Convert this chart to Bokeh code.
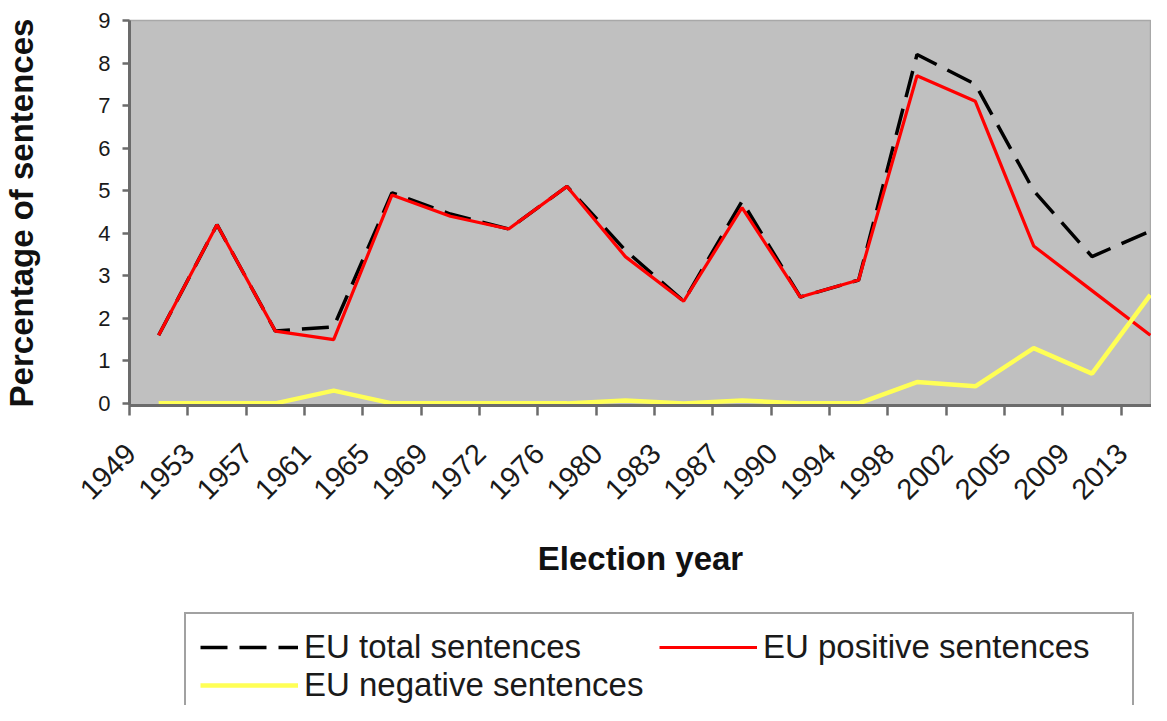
import math
from bokeh.plotting import figure
from bokeh.layouts import column
from bokeh.models import (Range1d, FixedTicker, CustomJSTickFormatter, Legend,
                          LegendItem, ColumnDataSource)
from bokeh.embed import file_html
from bokeh.resources import INLINE

# ---- data -------------------------------------------------------------
years = ["1949", "1953", "1957", "1961", "1965", "1969", "1972", "1976", "1980",
         "1983", "1987", "1990", "1994", "1998", "2002", "2005", "2009", "2013"]
eu_total = [1.6, 4.2, 1.7, 1.8, 4.95, 4.45, 4.1, 5.1, 3.6,
            2.4, 4.75, 2.5, 2.9, 8.2, 7.5, 5.0, 3.45, 4.05]
eu_positive = [1.6, 4.2, 1.7, 1.5, 4.9, 4.4, 4.1, 5.1, 3.45,
               2.4, 4.6, 2.5, 2.9, 7.7, 7.1, 3.7, 2.65, 1.6]
eu_negative = [0.0, 0.0, 0.0, 0.3, 0.0, 0.0, 0.0, 0.0, 0.07,
               0.0, 0.07, 0.0, 0.0, 0.5, 0.4, 1.3, 0.7, 2.55]
y_ticks = [0, 1, 2, 3, 4, 5, 6, 7, 8, 9]
series_labels = ["EU total sentences", "EU positive sentences", "EU negative sentences"]

pos = list(range(1, len(years) + 1))
src = ColumnDataSource(dict(x=pos, total=eu_total, positive=eu_positive,
                            negative=eu_negative))

FONT = "Liberation Sans"
AXIS_GRAY = "#6b6b6b"
LABEL_SHIFT = 0.48
W = 1151

STYLES = {
    "total": dict(line_color="black", line_width=3.5, line_dash="27 12"),
    "positive": dict(line_color="#ff0000", line_width=3.2),
    "negative": dict(line_color="#ffff55", line_width=4.5),
}

# ---- main chart --------------------------------------------------------
p = figure(width=W, height=612, output_backend="svg", toolbar_location=None,
           x_range=Range1d(0.5, 18.02), y_range=Range1d(-0.05, 9),
           min_border_left=126, min_border_right=0, min_border_top=20,
           min_border_bottom=207,
           background_fill_color="#c0c0c0", border_fill_color="white")
p.xgrid.visible = False
p.ygrid.visible = False
p.outline_line_color = "#a8a8a8"
p.outline_line_width = 1.5

xa = p.xaxis[0]
xa.ticker = FixedTicker(ticks=[i - LABEL_SHIFT for i in pos],
                        minor_ticks=[i - 0.5 for i in pos] + [len(pos) + 0.5])
xa.formatter = CustomJSTickFormatter(
    args=dict(labels=years, shift=LABEL_SHIFT),
    code="const i = Math.round(tick + shift) - 1;"
         "return (i >= 0 && i < labels.length) ? labels[i] : '';")
xa.major_label_orientation = math.pi / 4
xa.major_tick_out = 0
xa.major_tick_in = 0
xa.minor_tick_out = 10
xa.minor_tick_in = 0
xa.minor_tick_line_color = AXIS_GRAY
xa.minor_tick_line_width = 2.5
xa.axis_line_color = AXIS_GRAY
xa.axis_line_width = 3
xa.major_label_standoff = 33
xa.major_label_text_font = FONT
xa.major_label_text_font_size = "29px"
xa.major_label_text_color = "#1a1a1a"
xa.axis_label = "Election year"
xa.axis_label_text_font = FONT
xa.axis_label_text_font_style = "bold"
xa.axis_label_text_font_size = "33px"
xa.axis_label_text_color = "#111111"
xa.axis_label_standoff = 29

ya = p.yaxis[0]
ya.ticker = FixedTicker(ticks=y_ticks)
ya.major_tick_out = 7
ya.major_tick_in = 0
ya.major_tick_line_color = AXIS_GRAY
ya.major_tick_line_width = 2.5
ya.minor_tick_out = 0
ya.minor_tick_in = 0
ya.axis_line_color = AXIS_GRAY
ya.axis_line_width = 3
ya.major_label_standoff = 12
ya.major_label_text_font = FONT
ya.major_label_text_font_size = "22px"
ya.major_label_text_color = "#1a1a1a"
ya.axis_label = "Percentage of sentences"
ya.axis_label_text_font = FONT
ya.axis_label_text_font_style = "bold"
ya.axis_label_text_font_size = "33px"
ya.axis_label_text_color = "#111111"
ya.axis_label_standoff = 55

p.line("x", "total", source=src, **STYLES["total"])
p.line("x", "positive", source=src, **STYLES["positive"])
p.line("x", "negative", source=src, **STYLES["negative"])

# ---- legend strip (same series, view placed away from the data) --------
lg = figure(width=W, height=93, output_backend="svg", toolbar_location=None,
            x_range=Range1d(100, 101), y_range=Range1d(100, 101),
            x_axis_location=None, y_axis_location=None, min_border=0,
            background_fill_color="white", border_fill_color="white",
            outline_line_color=None)
lg.xgrid.visible = False
lg.ygrid.visible = False
lr_total = lg.line("x", "total", source=src, **STYLES["total"])
lr_pos = lg.line("x", "positive", source=src, **STYLES["positive"])
lr_neg = lg.line("x", "negative", source=src, **STYLES["negative"])

legend = Legend(items=[LegendItem(label=series_labels[0], renderers=[lr_total]),
                       LegendItem(label=series_labels[1], renderers=[lr_pos]),
                       LegendItem(label=series_labels[2], renderers=[lr_neg])],
                location=(55, -15), orientation="horizontal", ncols=2,
                label_text_font=FONT, label_text_font_size="33px",
                label_text_color="#1a1a1a", label_height=38, glyph_height=38,
                glyph_width=98, label_standoff=6, label_width=355,
                padding=14, spacing=0, margin=0,
                border_line_color="#444444", border_line_width=2,
                background_fill_color="white", background_fill_alpha=1.0)
lg.add_layout(legend, "center")

page = column(p, lg, spacing=0)
open("out.html", "w").write(file_html(page, INLINE))
